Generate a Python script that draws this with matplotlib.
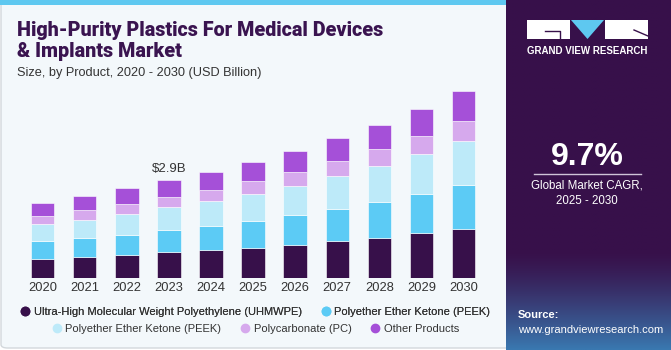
import matplotlib.pyplot as plt
import numpy as np
from matplotlib.patches import Rectangle, FancyBboxPatch, Polygon
from matplotlib.lines import Line2D

years = ["2020", "2021", "2022", "2023", "2024", "2025", "2026", "2027", "2028", "2029", "2030"]
uhmwpe = [0.58, 0.64, 0.70, 0.77, 0.83, 0.90, 0.99, 1.09, 1.20, 1.33, 1.45]
peek = [0.51, 0.55, 0.59, 0.66, 0.71, 0.80, 0.88, 0.96, 1.05, 1.16, 1.30]
peek2 = [0.50, 0.54, 0.61, 0.66, 0.74, 0.79, 0.86, 0.96, 1.06, 1.19, 1.31]
pc = [0.24, 0.28, 0.29, 0.31, 0.33, 0.37, 0.40, 0.44, 0.49, 0.52, 0.59]
other = [0.40, 0.42, 0.46, 0.51, 0.54, 0.58, 0.63, 0.68, 0.73, 0.80, 0.87]

names = ["Ultra-High Molecular Weight Polyethylene (UHMWPE)", "Polyether Ether Ketone (PEEK)",
         "Polyether Ether Ketone (PEEK)", "Polycarbonate (PC)", "Other Products"]
colors = ["#37104a", "#5ccbf5", "#bdeaf9", "#d6a9ed", "#a550d8"]

W, H = 671, 350
BODY = "Liberation Sans"
DARK = "#37104a"


def fx(x):
    return x / W


def fy(y):
    return 1 - y / H


fig = plt.figure(figsize=(W / 100, H / 100), dpi=100)
fig.patch.set_facecolor("white")

# left panel
fig.patches.append(FancyBboxPatch((fx(1), fy(348)), fx(512), (347) / H,
                                  boxstyle="round,pad=0,rounding_size=0.01",
                                  transform=fig.transFigure, facecolor="#f3f8fb",
                                  edgecolor="#d3d8dc", linewidth=1, zorder=-2))
fig.patches.append(Rectangle((0, fy(5)), fx(506), 5 / H, transform=fig.transFigure,
                             facecolor="#5ec8f0", edgecolor="none", zorder=-1))

# right panel with gradient
pan = fig.add_axes([fx(506), 0, fx(W - 506), 1])
pan.set_axis_off()
grad = np.linspace(0, 1, 200)
top = np.array([0x37, 0x10, 0x4a]) / 255
bot = np.array([0x3a, 0x78, 0xb0]) / 255
t = np.clip((grad - 0.72) / 0.28, 0, 1) ** 1.3
img = top[None, :] * (1 - t[:, None]) + bot[None, :] * t[:, None]
pan.imshow(img[:, None, :], aspect="auto", extent=[0, 1, 0, 1], origin="upper")
pan.set_xlim(0, 1)
pan.set_ylim(0, 1)

# logo
fig.patches.append(Rectangle((fx(527), fy(39)), fx(43), 19 / H, transform=fig.transFigure,
                             facecolor="white", edgecolor="none", zorder=3))
fig.patches.append(Rectangle((fx(605), fy(39)), fx(43), 19 / H, transform=fig.transFigure,
                             facecolor="white", edgecolor="none", zorder=3))
fig.patches.append(Polygon([(fx(571), fy(20)), (fx(604), fy(20)), (fx(587.5), fy(39))],
                           closed=True, transform=fig.transFigure, facecolor="#5ec8f0",
                           edgecolor="none", zorder=3))
fig.lines.append(Line2D([fx(545), fx(560), fx(560)], [fy(31), fy(31), fy(39)],
                        transform=fig.transFigure, color=DARK, lw=1, zorder=4))
fig.lines.append(Line2D([fx(634), fx(648)], [fy(30), fy(36)],
                        transform=fig.transFigure, color=DARK, lw=1, zorder=4))
fig.text(fx(587.5), fy(50.5), "GRAND VIEW RESEARCH", color="white", fontsize=7,
         fontweight="bold", family=BODY, ha="center", va="center")

fig.text(fx(587), fy(157), "9.7%", color="white", fontsize=23, fontweight="bold",
         family=BODY, ha="center", va="center")
fig.lines.append(Line2D([fx(534), fx(641)], [fy(173.5), fy(173.5)],
                        transform=fig.transFigure, color="#cfc4d8", lw=1))
fig.text(fx(587), fy(185), "Global Market CAGR,", color="white", fontsize=8.3,
         family=BODY, ha="center", va="center")
fig.text(fx(587), fy(201), "2025 - 2030", color="white", fontsize=8.3,
         family=BODY, ha="center", va="center")
fig.text(fx(518), fy(315), "Source:", color="white", fontsize=8, fontweight="bold",
         family=BODY, ha="left", va="center")
fig.text(fx(518), fy(330), "www.grandviewresearch.com", color="white", fontsize=8,
         family=BODY, ha="left", va="center")

# titles
fig.text(fx(17), fy(36), "High-Purity Plastics For Medical Devices", color="#3a1450",
         fontsize=14.2, fontweight="black", family="Roboto", ha="left", va="baseline")
fig.text(fx(17), fy(57), "& Implants Market", color="#3a1450",
         fontsize=14.2, fontweight="black", family="Roboto", ha="left", va="baseline")
fig.text(fx(17), fy(73), "Size, by Product, 2020 - 2030 (USD Billion)", color="#333333",
         fontsize=9.2, family=BODY, ha="left", va="center")

# chart
base_px, top_px = 278.3, 85
scale = 0.0295
ax = fig.add_axes([fx(10), fy(base_px), fx(485), (base_px - top_px) / H])
ax.set_facecolor("none")
x = np.arange(len(years))
bottom = np.zeros(len(years))
for vals, col in zip([uhmwpe, peek, peek2, pc, other], colors):
    ax.bar(x, vals, 0.555, bottom=bottom, color=col, edgecolor="#ffffff", linewidth=0.4)
    bottom += np.array(vals)
ax.set_xlim(-0.777, 10.75)
ax.set_ylim(0, (base_px - top_px) * scale)
ax.set_xticks(x)
ax.set_xticklabels(years, fontsize=9.3, family=BODY, color="#333333")
ax.tick_params(axis="x", length=0, pad=2.5)
ax.set_yticks([])
for s in ax.spines.values():
    s.set_visible(False)
ax.text(3, bottom[3] + 0.15, "\\$2.9B", ha="center", va="bottom", fontsize=9.5,
        family=BODY, color="#333333")

# legend in two centred rows
handles = [Line2D([], [], marker="o", linestyle="none", markersize=6, color=c) for c in colors]
row1 = fig.legend(handles[:2], names[:2], ncol=2, loc="center", bbox_to_anchor=(fx(255), fy(312.3)),
                  frameon=False, prop={"family": BODY, "size": 8}, handletextpad=0.3,
                  columnspacing=1.6, handlelength=1.0, labelcolor="#333333")
fig.add_artist(row1)
fig.legend(handles[2:], names[2:], ncol=3, loc="center", bbox_to_anchor=(fx(255), fy(328.7)),
           frameon=False, prop={"family": BODY, "size": 8}, handletextpad=0.3,
           columnspacing=1.6, handlelength=1.0, labelcolor="#333333")

fig.savefig("out.png", dpi=100)
